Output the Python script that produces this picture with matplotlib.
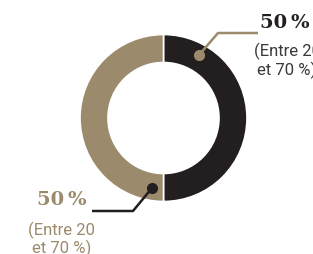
import matplotlib.pyplot as plt

# données du graphique
parts = [50, 50]
couleurs = ['#231f20', '#9b8b6c']
etiquettes = ['50\u2009%', '50\u2009%']
sous_titres = ['(Entre 20\net 70 %)', '(Entre 20\net 70 %)']

W, H = 313, 255
fig = plt.figure(figsize=(W / 100, H / 100), dpi=100)
ax = fig.add_axes([0, 0, 1, 1])

# anneau (coordonnées en pixels, y vers le haut)
cx, cy, r = 163.5, H - 119, 83.5
ax.pie(parts, colors=couleurs, startangle=90, counterclock=False,
       center=(cx, cy), radius=r,
       wedgeprops=dict(width=28, edgecolor='white', linewidth=1.2))

# lignes de rappel
ax.plot([199, 218, 258], [H - 56, H - 34, H - 34], color=couleurs[1], lw=1.8,
        solid_capstyle='butt', zorder=3)
ax.plot([199], [H - 56], 'o', color=couleurs[1], ms=7, zorder=4)
ax.plot([152, 133, 92], [H - 189, H - 212, H - 212], color=couleurs[0], lw=1.8,
        solid_capstyle='butt', zorder=3)
ax.plot([152], [H - 189], 'o', color=couleurs[0], ms=7, zorder=4)

# textes
ax.text(285, H - 22.5, etiquettes[0], ha='center', va='center', color=couleurs[0],
        fontsize=14, fontweight='bold', family='DejaVu Serif')
ax.text(287, H - 61, sous_titres[0], ha='center', va='center', color='#3a3a3a',
        fontsize=12, family='Roboto', linespacing=1.1)
ax.text(62, H - 239.5, sous_titres[1], ha='center', va='center', color=couleurs[1],
        fontsize=12, family='Roboto', linespacing=1.1)
ax.text(62, H - 200.5, etiquettes[1], ha='center', va='center', color=couleurs[1],
        fontsize=14, fontweight='bold', family='DejaVu Serif')

ax.set_xlim(0, W)
ax.set_ylim(0, H)
ax.set_aspect('auto')
ax.axis('off')
fig.savefig('out.png', dpi=100)
